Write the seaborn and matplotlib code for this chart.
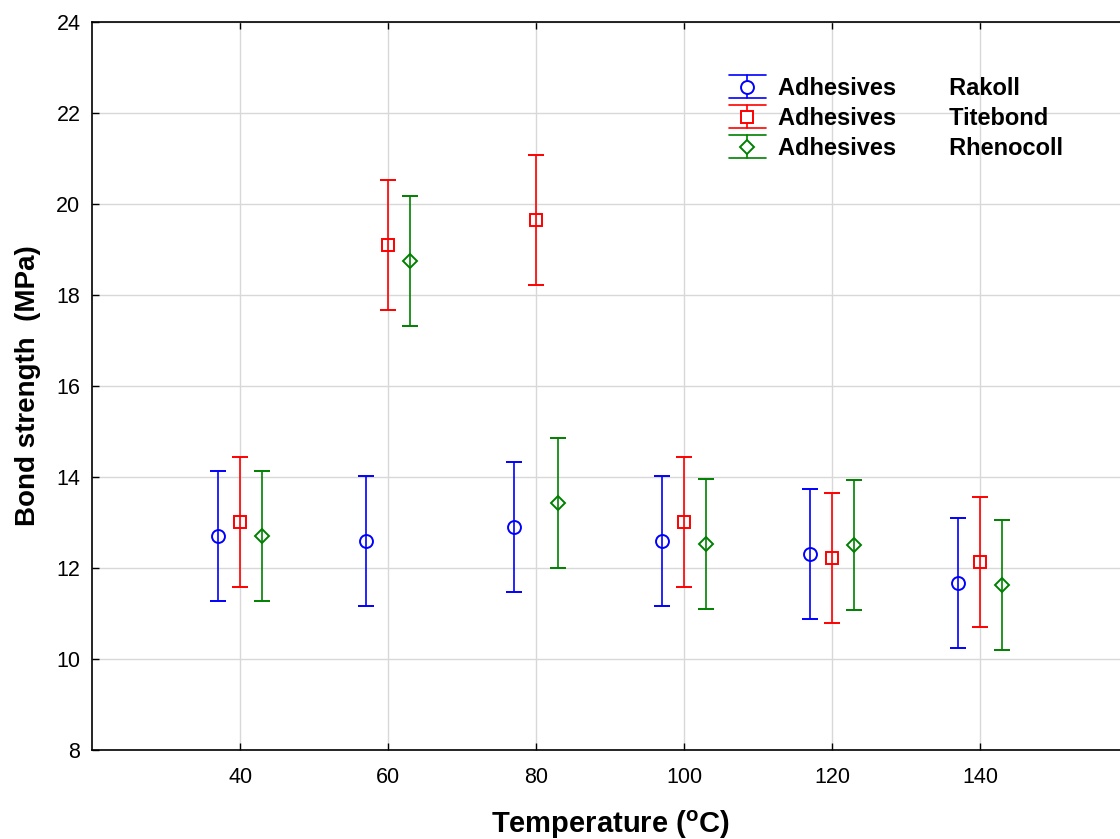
import matplotlib
matplotlib.use("Agg")
import matplotlib.pyplot as plt
from matplotlib.lines import Line2D
from matplotlib.legend_handler import HandlerBase
import seaborn as sns
import numpy as np
import pandas as pd

# data
temps = [40, 60, 80, 100, 120, 140]
rakoll = [12.70, 12.60, 12.89, 12.60, 12.31, 11.66]
titebond = [13.00, 19.10, 19.64, 13.00, 12.21, 12.13]
rhenocoll = [12.71, 18.74, 13.42, 12.52, 12.50, 11.63]
ci_half = 1.43  # half width of the 95% CI bars

series = [
    ("Rakoll", rakoll, -3, "blue", "o", 9.3),
    ("Titebond", titebond, 0, "red", "s", 8.7),
    ("Rhenocoll", rhenocoll, 3, "green", "D", 6.8),
]


class CapHandler(HandlerBase):
    # legend key like the statistica one: wide caps above and below the marker
    def __init__(self, col, mk, ms):
        super().__init__()
        self.col, self.mk, self.ms = col, mk, ms

    def create_artists(self, legend, orig_handle, xdescent, ydescent,
                       width, height, fontsize, trans):
        cx = width / 2 - xdescent
        cy = height / 2 - ydescent
        h = 8.3
        arts = [
            Line2D([-xdescent, width - xdescent], [cy + h, cy + h], color=self.col, lw=1.2),
            Line2D([-xdescent, width - xdescent], [cy - h, cy - h], color=self.col, lw=1.2),
            Line2D([cx, cx], [cy - h, cy + h], color=self.col, lw=1.2),
            Line2D([cx], [cy], marker=self.mk, ms=self.ms, mfc="white",
                   mec=self.col, mew=1.4, ls="none"),
        ]
        for a in arts:
            a.set_transform(trans)
        return arts


sns.set_theme(style="whitegrid")
plt.rcParams["font.family"] = ["Liberation Sans", "DejaVu Sans"]
plt.rcParams["text.color"] = "black"
plt.rcParams["axes.labelcolor"] = "black"
plt.rcParams["mathtext.fontset"] = "custom"
plt.rcParams["mathtext.bf"] = "Liberation Sans:bold"
plt.rcParams["mathtext.rm"] = "Liberation Sans"

fig = plt.figure(figsize=(11.2, 8.39), dpi=100)
ax = fig.add_axes([0.0824, 0.1061, 0.925, 0.868])

handles, labels, hmap = [], [], {}
for name, vals, off, col, mk, ms in series:
    df = pd.DataFrame({"x": np.array(temps) + off, "y": vals})
    eb = ax.errorbar(df["x"], df["y"], yerr=ci_half, fmt=mk, color=col,
                     mfc="none", mec=col, ms=ms, mew=1.4, elinewidth=1.2,
                     capsize=6, capthick=1.2)
    handles.append(eb)
    labels.append("Adhesives        " + name)
    hmap[eb] = CapHandler(col, mk, ms)

ax.set_xlim(20, 160)
ax.set_ylim(8, 24)
ax.set_xticks(temps)
ax.set_yticks(np.arange(8, 25, 2))
ax.grid(True, color="#d8d8d8", linewidth=1.0)
ax.spines["right"].set_visible(False)
for s in ["left", "bottom", "top"]:
    ax.spines[s].set_color("black")
    ax.spines[s].set_linewidth(1.2)
ax.tick_params(axis="both", direction="in", length=5, width=1.0,
               color="black", labelsize=15.5, labelcolor="black",
               top=True, left=True, bottom=True, labeltop=False)
ax.tick_params(axis="x", pad=12)
ax.tick_params(axis="y", pad=8.5)

ax.set_xlabel(r"Temperature ($\mathbf{^o}$C)", fontsize=21, fontweight="bold",
              labelpad=15)
ax.set_ylabel("Bond strength  (MPa)", fontsize=20, fontweight="bold",
              labelpad=11)

leg = ax.legend(handles, labels, handler_map=hmap, loc="upper left",
                bbox_to_anchor=(0.605, 0.937), frameon=False,
                prop={"weight": "bold", "size": 17}, handlelength=1.6,
                handletextpad=0.5, labelspacing=0.3, borderaxespad=0)

fig.savefig("out.png", dpi=100)
